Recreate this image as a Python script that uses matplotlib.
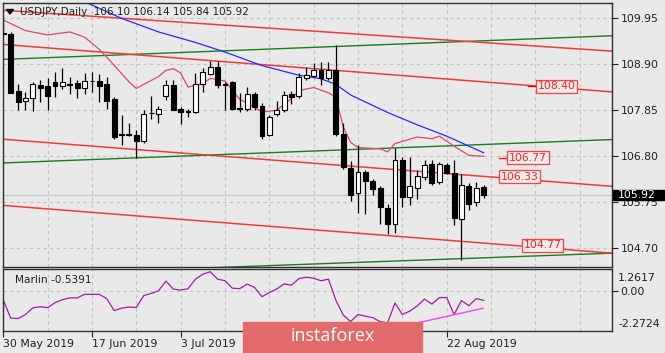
import numpy as np
import pandas as pd
import matplotlib
matplotlib.use('Agg')
import matplotlib.pyplot as plt
from matplotlib.patches import Rectangle, Polygon
from matplotlib.transforms import blended_transform_factory

# daily bars, 30 May 2019 .. 29 Aug 2019
bar_dates = pd.bdate_range('2019-05-30', '2019-08-29')

opens = [109.62, 109.59, 108.29, 108.06, 108.12, 108.42, 108.40, 108.50, 108.41, 108.44,
         108.48, 108.35, 108.53, 108.52, 108.44, 108.10, 107.30, 107.31, 107.28, 107.14,
         107.79, 107.76, 108.17, 108.42, 107.87, 107.83, 107.81, 108.46, 108.69, 108.84,
         108.46, 108.49, 107.91, 107.89, 108.23, 107.94, 107.28, 107.76, 107.85, 108.22,
         108.17, 108.58, 108.64, 108.78, 108.58, 108.77, 107.32, 106.54, 105.95, 106.44,
         106.23, 106.08, 105.62, 105.26, 106.71, 105.87, 106.08, 106.33, 106.63, 106.21,
         106.59, 106.42, 105.37, 106.11, 105.75, 106.10]
highs = [109.92, 109.63, 108.45, 108.27, 108.50, 108.55, 108.58, 108.73, 108.81, 108.61,
         108.55, 108.71, 108.73, 108.69, 108.61, 108.16, 107.74, 107.55, 107.41, 107.85,
         108.18, 107.94, 108.54, 108.54, 107.93, 107.89, 108.71, 108.81, 108.98, 108.98,
         108.50, 108.52, 108.25, 108.38, 108.27, 108.02, 107.74, 108.06, 108.29, 108.29,
         108.71, 108.83, 108.92, 108.96, 108.96, 109.34, 107.55, 106.69, 107.05, 106.48,
         106.29, 106.11, 105.72, 106.98, 106.78, 106.78, 106.48, 106.71, 106.71, 106.67,
         106.65, 106.72, 106.39, 106.19, 106.21, 106.14]
lows = [109.55, 108.24, 107.85, 107.85, 107.83, 108.04, 107.85, 108.16, 108.33, 108.23,
        108.14, 108.23, 108.27, 108.04, 107.89, 107.20, 107.05, 107.26, 106.77, 107.10,
        107.66, 107.55, 108.08, 107.85, 107.53, 107.69, 107.79, 108.27, 108.65, 108.37,
        107.85, 107.85, 107.81, 107.83, 107.85, 107.20, 107.26, 107.71, 107.81, 108.00,
        108.12, 108.54, 108.61, 108.42, 108.54, 107.26, 106.50, 105.79, 105.50, 105.49,
        105.91, 105.26, 105.03, 105.05, 105.64, 105.68, 105.83, 106.25, 106.14, 106.16,
        106.39, 105.24, 104.44, 105.58, 105.66, 105.84]
closes = [109.60, 108.25, 108.03, 108.12, 108.45, 108.37, 108.18, 108.41, 108.50, 108.42,
          108.35, 108.52, 108.51, 108.41, 108.07, 107.24, 107.29, 107.28, 107.14, 107.76,
          107.78, 107.87, 108.42, 107.86, 107.81, 107.82, 108.46, 108.73, 108.84, 108.42,
          108.42, 107.87, 107.87, 108.23, 107.93, 107.26, 107.70, 107.85, 108.21, 108.16,
          108.61, 108.65, 108.77, 108.58, 108.77, 107.30, 106.56, 105.91, 106.44, 106.23,
          106.06, 105.64, 105.26, 106.72, 105.87, 106.11, 106.34, 106.59, 106.18, 106.63,
          106.42, 105.39, 106.14, 105.72, 106.08, 105.92]

# fast (red) and slow (blue) moving averages, read at some bars
ma_fast_idx = [0, 3, 6, 9, 11, 13, 15, 17, 18, 19, 21, 22, 23, 24, 25, 27, 28, 30, 32, 33,
               35, 37, 39, 40, 42, 44, 45, 46, 47, 48, 51, 52, 53, 56, 58, 59, 61, 63, 65]
ma_fast = [109.91, 109.67, 109.57, 109.64, 109.52, 109.24, 108.88, 108.50, 108.35, 108.44,
           108.62, 108.76, 108.80, 108.70, 108.38, 108.46, 108.58, 108.52, 108.10, 108.02,
           107.81, 107.85, 108.12, 108.30, 108.37, 108.25, 108.15, 107.47, 107.12, 107.00,
           106.97, 106.90, 107.09, 107.24, 107.20, 107.26, 107.03, 106.82, 106.80]
ma_slow_idx = [10, 11, 16, 21, 26, 30, 35, 40, 43, 45, 47, 52, 56, 60, 65]
ma_slow = [110.40, 110.33, 109.95, 109.64, 109.40, 109.18, 108.87, 108.65, 108.57, 108.44,
           108.20, 107.80, 107.52, 107.26, 106.88]

# trend lines: (bar start, price start, bar end, price end)
red_lines = [(-0.08, 110.135, 82.37, 109.20),
             (-0.08, 109.355, 82.37, 108.27),
             (-0.08, 107.19, 82.37, 106.114),
             (-0.08, 105.679, 82.37, 104.588)]
green_lines = [(-0.08, 109.012, 82.37, 109.552),
               (-0.08, 106.647, 82.37, 107.182),
               (-0.08, 104.082, 82.37, 104.588)]

# Marlin oscillator
marlin = [-0.525, -1.54, -1.57, -1.34, -0.96, -0.90, -0.95, -0.67, -0.50, -0.40,
          -0.40, -0.20, -0.20, -0.20, -0.44, -1.12, -0.98, -0.92, -0.94, -0.27,
          -0.15, 0.00, 0.55, 0.10, 0.04, 0.12, 0.66, 0.94, 1.08, 0.66,
          0.57, 0.15, 0.12, 0.38, 0.19, -0.33, -0.10, 0.10, 0.39, 0.32,
          0.69, 0.77, 0.71, 0.57, 0.66, -0.53, -1.37, -1.74, -1.34, -1.43,
          -1.52, -1.74, -1.82, -0.69, -1.34, -1.15, -0.86, -0.47, -0.75, -0.38,
          -0.38, -1.34, -0.55, -0.84, -0.44, -0.5391]
marlin_trend = (53.4, -2.06, 64.9, -0.99)

price_ticks = [104.70, 105.75, 106.80, 107.85, 108.90, 109.95]
price_labels = [108.40, 106.77, 106.33, 104.77]
date_ticks = [0, 12, 24, 60]

W, H = 665, 353
bg = '#e9e9e9'
grid_c = '#c2c2c2'
fig = plt.figure(figsize=(W / 100, H / 100), dpi=100)
fig.patch.set_facecolor(bg)


def fx(px):
    return px / W


def fy(py):
    return 1 - py / H


ax = fig.add_axes([fx(2.7), fy(266.5), fx(612) - fx(2.7), fy(2.7) - fy(266.5)])
axm = fig.add_axes([fx(2.7), fy(331), fx(612) - fx(2.7), fy(268.5) - fy(331)])
xlim = (-0.08, 82.37)

for a in (ax, axm):
    a.set_facecolor(bg)
    a.set_xlim(*xlim)
    for s in a.spines.values():
        s.set_color('#303030')
        s.set_linewidth(1)
    for gx in range(0, 83, 6):
        a.axvline(gx, color=grid_c, lw=0.8, ls=(0, (3, 3)), zorder=0)
    a.yaxis.tick_right()

# main chart
ax.set_ylim(104.283, 110.307)
for p in price_ticks:
    ax.axhline(p, color=grid_c, lw=0.8, ls=(0, (3, 3)), zorder=0)
ax.axhline(closes[-1], color='#c6c6c6', lw=0.9, zorder=0.5)

for x0, y0, x1, y1 in green_lines:
    ax.plot([x0, x1], [y0, y1], color='#16801a', lw=1.0, zorder=1)
for x0, y0, x1, y1 in red_lines:
    ax.plot([x0, x1], [y0, y1], color='#f23a3a', lw=1.1, zorder=1)

ax.plot(ma_slow_idx, ma_slow, color='#2a2aff', lw=0.9, zorder=1.5)
ax.plot(ma_fast_idx, ma_fast, color='#e04866', lw=0.9, zorder=1.5)

x = np.arange(len(opens))
o = np.array(opens)
c = np.array(closes)
ax.vlines(x, lows, highs, color='black', lw=0.9, zorder=2)
up = c >= o
ax.bar(x[up], (c - o)[up], bottom=o[up], width=0.66, color='white',
       edgecolor='black', lw=0.8, zorder=3)
ax.bar(x[~up], (o - c)[~up], bottom=c[~up], width=0.66, color='black',
       edgecolor='black', lw=0.8, zorder=3)

ax.set_yticks(price_ticks)
ax.set_yticklabels(['%.2f' % p for p in price_ticks])
ax.tick_params(axis='y', length=4, width=0.8, pad=2, labelsize=7.8,
               colors='#202020')
ax.set_xticks([])

# price labels on the lines
label_x = [74.9, 71.0, 69.85, 72.96]
for lx, p in zip(label_x, price_labels):
    ax.text(lx, p, '%.2f' % p, ha='center', va='center', fontsize=7.8,
            color='#ff2020', zorder=6,
            bbox=dict(boxstyle='square,pad=0.15', fc='#ececec', ec='#ff4040', lw=0.9))
ax.plot([71.0, 72.4], [price_labels[0]] * 2, color='#b01010', lw=1, zorder=5)
ax.plot([67.1, 68.4], [price_labels[1]] * 2, color='#ff2020', lw=1, zorder=5)

# last price box
tr = blended_transform_factory(ax.transAxes, ax.transData)
ax.add_patch(Rectangle((1.002, closes[-1] - 0.12), fx(664) / (fx(612) - fx(2.7)) - 1.002 - fx(2.7) / (fx(612) - fx(2.7)),
                       0.24, transform=tr, color='black', clip_on=False, zorder=9))
ax.text(1.01, closes[-1], '%.2f' % closes[-1], transform=tr, ha='left', va='center',
        fontsize=7.8, color='white', clip_on=False, zorder=10)

# title
fig.text(fx(20), fy(12), 'USDJPY,Daily  %.2f %.2f %.2f %.2f'
         % (opens[-1], highs[-1], lows[-1], closes[-1]),
         fontsize=7.5, color='#202020', va='center', ha='left')
fig.patches.append(Polygon([[fx(6.5), fy(9.5)], [fx(13.5), fy(9.5)], [fx(10), fy(14)]],
                           closed=True, color='black', transform=fig.transFigure))

# Marlin panel
axm.set_ylim(-2.2724, 1.2617)
axm.axhline(0, color=grid_c, lw=0.8, ls=(0, (3, 3)), zorder=0)
axm.plot(x, marlin, color='#a21ca8', lw=0.9, zorder=2)
axm.plot([marlin_trend[0], marlin_trend[2]], [marlin_trend[1], marlin_trend[3]],
         color='#ff3cff', lw=1.0, zorder=2)
axm.set_yticks([0])
axm.set_yticklabels(['0.00'])
axm.tick_params(axis='y', length=4, width=0.8, pad=2, labelsize=7.8, colors='#202020')
axm.text(1.01, 0.853, '1.2617', transform=axm.transAxes, va='center', ha='left',
         fontsize=7.8, color='#202020')
axm.text(1.01, 0.107, '-2.2724', transform=axm.transAxes, va='center', ha='left',
         fontsize=7.8, color='#202020')
axm.text(0.02, 0.82, 'Marlin %.4f' % marlin[-1], transform=axm.transAxes,
         va='center', ha='left', fontsize=7.6, color='#202020')

axm.set_xticks(date_ticks)
axm.set_xticklabels([bar_dates[i].strftime('%-d %b %Y') for i in date_ticks],
                    ha='left')
axm.tick_params(axis='x', length=4, width=0.8, pad=2, labelsize=7.8, colors='#202020')

# watermark
fig.patches.append(Rectangle((fx(243), 0), fx(422) - fx(243), fy(321.7),
                             transform=fig.transFigure, color='#e36a6a', zorder=20))
fig.text(fx(332.5), fy(336), 'instaforex', fontsize=13, color='white',
         family='Open Sans', ha='center', va='center', zorder=21)

fig.savefig('out.png', dpi=100, facecolor=bg)
